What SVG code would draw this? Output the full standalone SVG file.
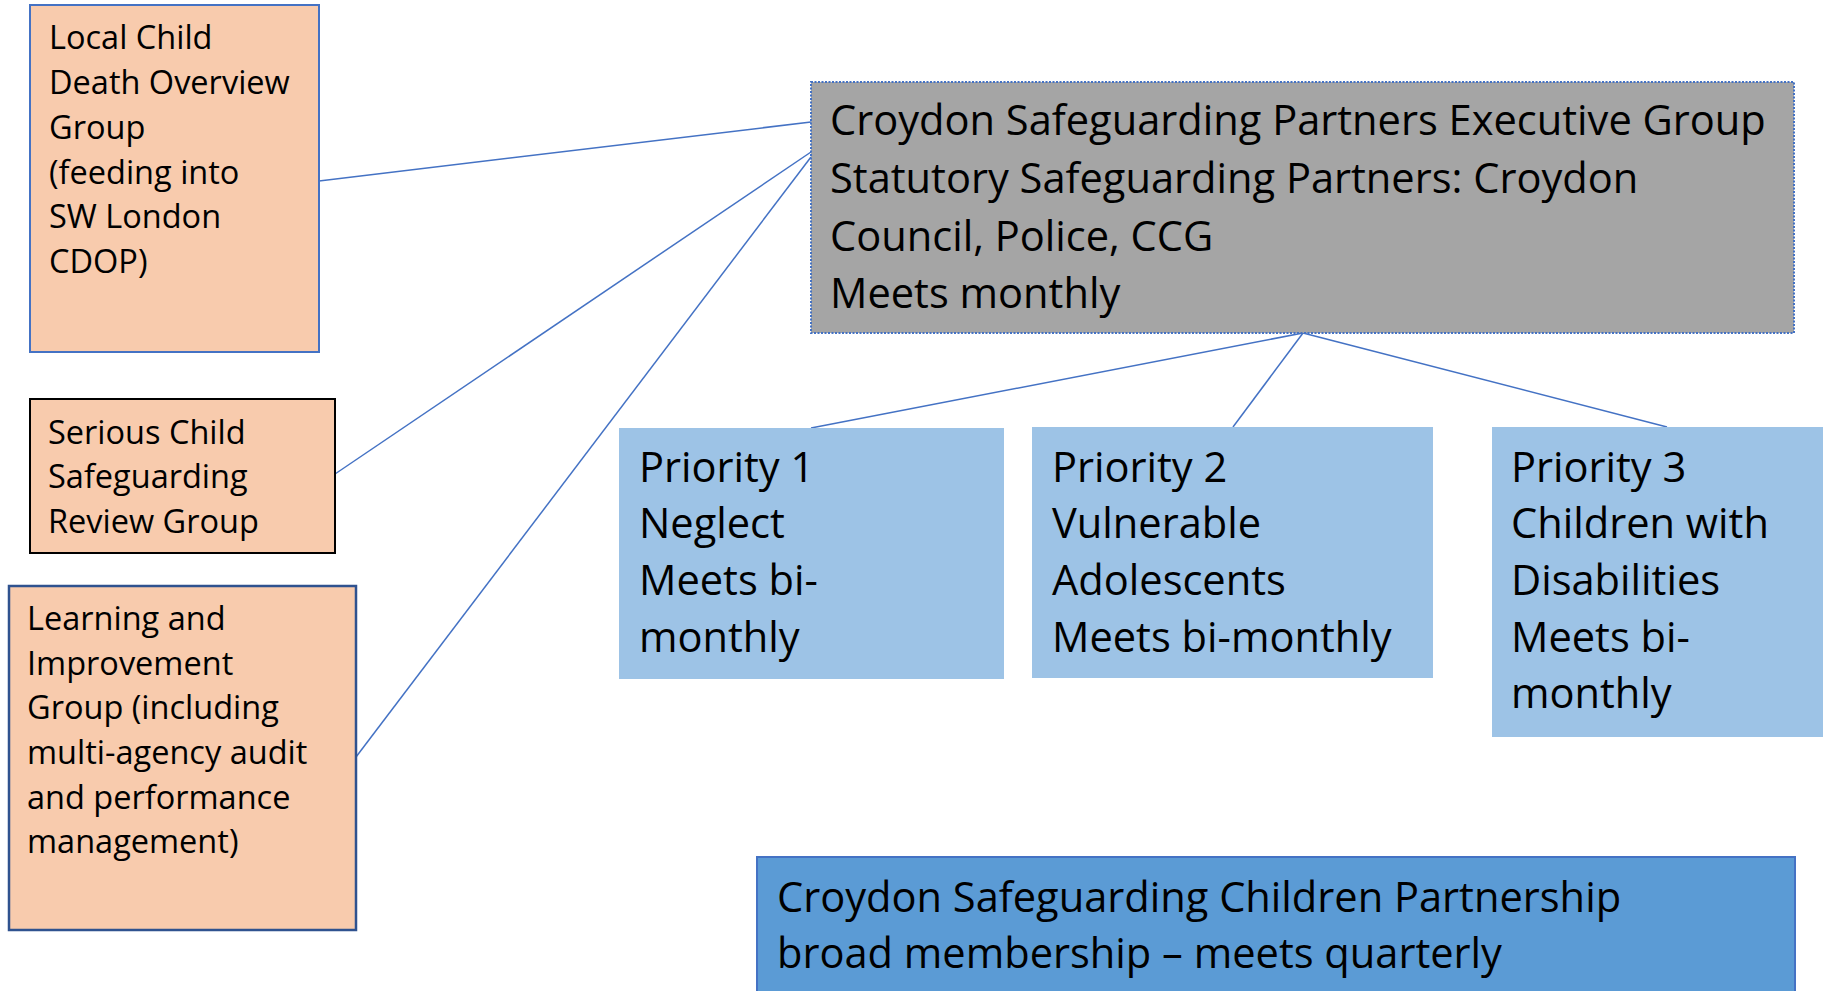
<svg xmlns="http://www.w3.org/2000/svg" width="1823" height="991" viewBox="0 0 1823 991">
<style>
text{font-family:"Open Sans","Noto Sans","Liberation Sans",sans-serif;fill:#000}
.s{font-size:32.5px}
.b{font-size:41.6px}
.conn{stroke:#4472C4;stroke-width:1.5;fill:none}
.peach{fill:#F8CBAD}
.prio{fill:#9DC3E6}
</style>
<rect width="1823" height="991" fill="#fff"/>
<g id="connectors">
<line class="conn" x1="319" y1="181" x2="811" y2="122"/>
<line class="conn" x1="335" y1="474" x2="811" y2="152"/>
<line class="conn" x1="356" y1="757" x2="811" y2="157"/>
<line class="conn" x1="1303" y1="333" x2="811" y2="428"/>
<line class="conn" x1="1303" y1="333" x2="1233" y2="427"/>
<line class="conn" x1="1303" y1="333" x2="1667" y2="427"/>
</g>
<g id="cdop">
<rect class="peach" x="30" y="5" width="289" height="347" stroke="#4472C4" stroke-width="2"/>
<text class="s"><tspan x="49" y="49">Local Child</tspan><tspan x="49" y="94">Death Overview</tspan><tspan x="49" y="139">Group</tspan><tspan x="49" y="184">(feeding into</tspan><tspan x="49" y="228">SW London</tspan><tspan x="49" y="273">CDOP)</tspan></text>
</g>
<g id="scsr">
<rect class="peach" x="30" y="399" width="305" height="154" stroke="#000" stroke-width="2"/>
<text class="s"><tspan x="48" y="444">Serious Child</tspan><tspan x="48" y="488">Safeguarding</tspan><tspan x="48" y="533">Review Group</tspan></text>
</g>
<g id="lig">
<rect class="peach" x="9" y="586" width="347" height="344" stroke="#2F528F" stroke-width="2.5"/>
<text class="s"><tspan x="27" y="630">Learning and</tspan><tspan x="27" y="675">Improvement</tspan><tspan x="27" y="719">Group (including</tspan><tspan x="27" y="764">multi-agency audit</tspan><tspan x="27" y="809">and performance</tspan><tspan x="27" y="853">management)</tspan></text>
</g>
<g id="exec">
<rect x="811" y="82" width="983" height="251" fill="#A5A5A5" stroke="#4472C4" stroke-width="2" stroke-dasharray="2 1.5"/>
<text class="b"><tspan x="830" y="135">Croydon Safeguarding Partners Executive Group</tspan><tspan x="830" y="193">Statutory Safeguarding Partners: Croydon</tspan><tspan x="830" y="251">Council, Police, CCG</tspan><tspan x="830" y="308">Meets monthly</tspan></text>
</g>
<g id="p1">
<rect class="prio" x="619" y="428" width="385" height="251"/>
<text class="b"><tspan x="639" y="482">Priority 1</tspan><tspan x="639" y="538">Neglect</tspan><tspan x="639" y="595">Meets bi-</tspan><tspan x="639" y="652">monthly</tspan></text>
</g>
<g id="p2">
<rect class="prio" x="1032" y="427" width="401" height="251"/>
<text class="b"><tspan x="1052" y="482">Priority 2</tspan><tspan x="1052" y="538">Vulnerable</tspan><tspan x="1052" y="595">Adolescents</tspan><tspan x="1052" y="652">Meets bi-monthly</tspan></text>
</g>
<g id="p3">
<rect class="prio" x="1492" y="427" width="340" height="310"/>
<text class="b"><tspan x="1511" y="482">Priority 3</tspan><tspan x="1511" y="538">Children with</tspan><tspan x="1511" y="595">Disabilities</tspan><tspan x="1511" y="652">Meets bi-</tspan><tspan x="1511" y="708">monthly</tspan></text>
</g>
<g id="cscp">
<rect x="757" y="857" width="1038" height="150" fill="#5B9BD5" stroke="#4472C4" stroke-width="2"/>
<text class="b"><tspan x="777" y="912">Croydon Safeguarding Children Partnership</tspan><tspan x="777" y="968">broad membership – meets quarterly</tspan></text>
</g>
</svg>
